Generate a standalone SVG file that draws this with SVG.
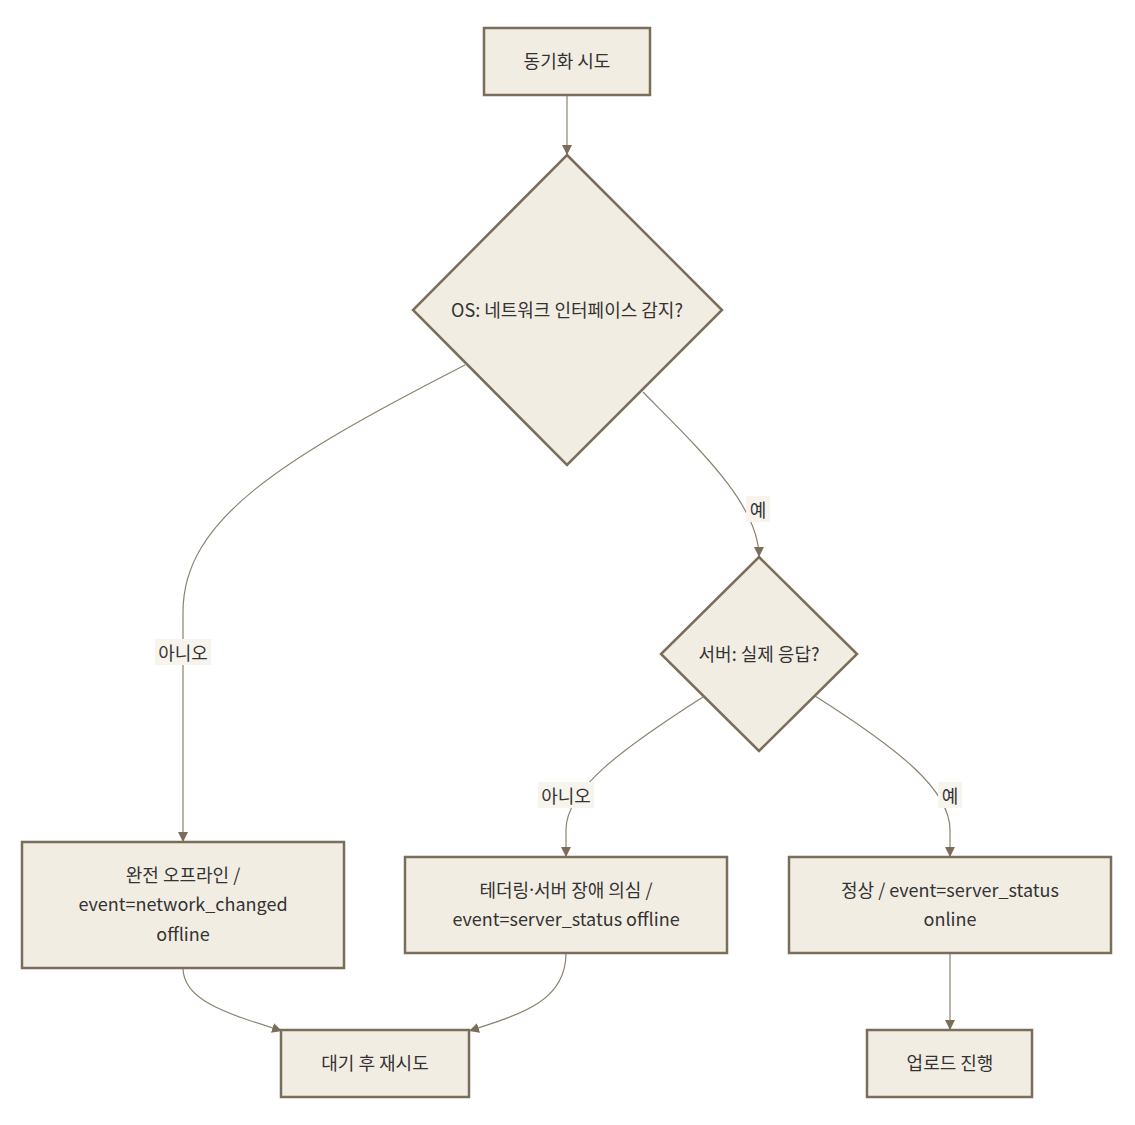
<svg xmlns="http://www.w3.org/2000/svg" width="1135" height="1125" viewBox="0 0 1135 1125">
<style>
.node{fill:#f2ede3;stroke:#7a6e5a;stroke-width:2.5}
.t{font-family:"Noto Sans CJK KR","Noto Sans",sans-serif;font-size:18px;fill:#333;text-anchor:middle;dominant-baseline:central}
.lat{font-family:"Noto Sans",sans-serif}
.edge{fill:none;stroke:#8c826f;stroke-width:1.2}
.lbg{fill:#f7f4ee}
</style>
<defs>
<marker id="arr" viewBox="0 0 10 10" refX="10" refY="5" markerWidth="10" markerHeight="10" markerUnits="userSpaceOnUse" orient="auto">
<path d="M0,0 L10,5 L0,10 z" fill="#7a6e5a"/>
</marker>
</defs>
<rect width="1135" height="1125" fill="#ffffff"/>
<g id="edges">
<path class="edge" d="M567,95 L567,155" marker-end="url(#arr)"/>
<path class="edge" d="M465,365 C280,460 183,520 183,612 L183,842" marker-end="url(#arr)"/>
<path class="edge" d="M643,392 C700,450 759,505 759,557" marker-end="url(#arr)"/>
<path class="edge" d="M703,697 C620,750 566,790 566,830 L566,857" marker-end="url(#arr)"/>
<path class="edge" d="M815,696 C900,750 950,790 950,830 L950,857" marker-end="url(#arr)"/>
<path class="edge" d="M183,968 C183,1000 225,1013 282,1031" marker-end="url(#arr)"/>
<path class="edge" d="M566,953 C566,1000 525,1013 469,1031" marker-end="url(#arr)"/>
<path class="edge" d="M950,953 L950,1030" marker-end="url(#arr)"/>
<g id="edge-labels">
<rect class="lbg" x="155" y="639" width="56" height="26"/><text class="t" x="183" y="652">아니오</text>
<rect class="lbg" x="746" y="496" width="24" height="26"/><text class="t" x="758" y="509">예</text>
<rect class="lbg" x="538" y="782" width="56" height="26"/><text class="t" x="566" y="795">아니오</text>
<rect class="lbg" x="938" y="782" width="24" height="26"/><text class="t" x="950" y="795">예</text>
</g>
</g>
<g id="nodeA"><rect class="node" x="484" y="28" width="166" height="67"/><text class="t" x="567" y="60">동기화 시도</text></g>
<g id="nodeB"><polygon class="node" points="567,155 722,310 567,465 413,310"/><text class="t" x="567" y="309">OS: 네트워크 인터페이스 감지?</text></g>
<g id="nodeC"><polygon class="node" points="759,557 857,654 759,751 661,654"/><text class="t" x="759" y="653">서버: 실제 응답?</text></g>
<g id="nodeD"><rect class="node" x="22" y="842" width="322" height="126"/><text class="t" x="183" y="874">완전 오프라인 /</text><text class="t" x="183" y="903">event=network_changed</text><text class="t" x="183" y="933">offline</text></g>
<g id="nodeE"><rect class="node" x="405" y="857" width="322" height="96"/><text class="t" x="566" y="889">테더링<tspan class="lat">·</tspan>서버 장애 의심 /</text><text class="t" x="566" y="918">event=server_status offline</text></g>
<g id="nodeF"><rect class="node" x="789" y="857" width="322" height="96"/><text class="t" x="950" y="889">정상 / event=server_status</text><text class="t" x="950" y="918">online</text></g>
<g id="nodeG"><rect class="node" x="281" y="1030" width="188" height="67"/><text class="t" x="375" y="1062">대기 후 재시도</text></g>
<g id="nodeH"><rect class="node" x="867" y="1030" width="165" height="67"/><text class="t" x="950" y="1062">업로드 진행</text></g>
</svg>
